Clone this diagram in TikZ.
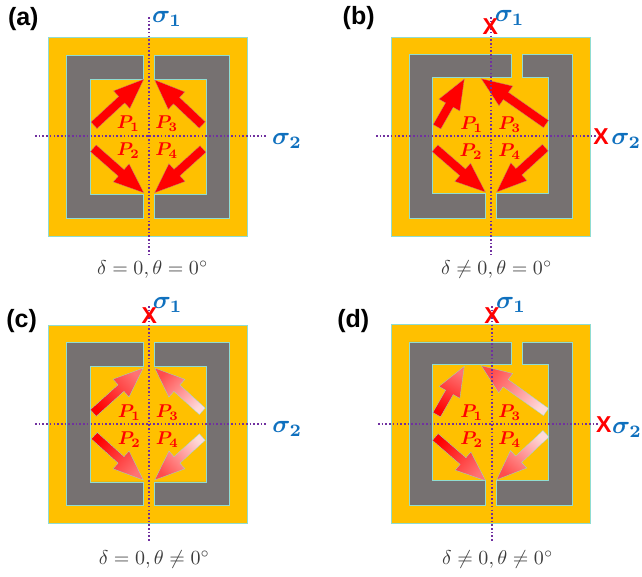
\documentclass[tikz,border=0pt]{standalone}
\usepackage{amsmath}
\usepackage{amssymb}
\usepackage{fontspec}
\newfontfamily\tagfont{Liberation Sans}
\usetikzlibrary{
    calc
}

\definecolor{ringgold}{HTML}{FFC000}
\definecolor{ringgray}{HTML}{767171}
\definecolor{ringedge}{HTML}{8FDCD2}
\definecolor{axispurple}{HTML}{7030A0}
\definecolor{sigmablue}{HTML}{0F70BE}
\definecolor{captiongray}{HTML}{3C3C3C}

\tikzset{
    ringpart/.style={draw=ringedge, line width=0.7pt},
    axisline/.style={axispurple, line width=1.6pt, dash pattern=on 1.6pt off 2.1pt},
    solidarrow/.style={fill=red, draw=ringedge!60!red, line width=0.3pt},
    strongarrow/.style={bottom color=red, top color=red!55!white, draw=ringedge, line width=0.3pt},
    weakarrow/.style={bottom color=red!15!white, top color=red!70!white, draw=ringedge, line width=0.3pt},
    ptag/.style={text=red, font=\boldmath, scale=1.85},
    sigmatag/.style={text=sigmablue, font=\boldmath, scale=2.5},
    crosstag/.style={text=red, font=\fontsize{23}{23}\selectfont\tagfont\bfseries},
    paneltag/.style={font=\fontsize{25}{25}\selectfont\tagfont\bfseries},
    captiontag/.style={text=captiongray, scale=2}
}

% tail, tip
\newcommand{\fatarrow}[3][solidarrow]{
    \coordinate (T) at #2;
    \coordinate (H) at #3;
    \coordinate (N) at ($(H)!30pt!(T)$);
    \path[#1] ($(T)!4.4pt!90:(H)$) -- ($(N)!4.4pt!-90:(T)$) -- ($(N)!12pt!-90:(T)$)
        -- (H) -- ($(N)!12pt!90:(T)$) -- ($(N)!4.4pt!90:(T)$) -- ($(T)!4.4pt!-90:(H)$) -- cycle;
}

% gaps facing each other
\newcommand{\ringsym}{
    \fill[ringgold, ringpart] (48.7,37.3) rectangle (247.7,236);
    \filldraw[fill=ringgray, ringpart] (143.7,55) -- (66.3,55) -- (66.3,218) -- (143.7,218)
        -- (143.7,194.3) -- (90,194.3) -- (90,79) -- (143.7,79) -- cycle;
    \filldraw[fill=ringgray, ringpart] (154.3,55) -- (229.7,55) -- (229.7,218) -- (154.3,218)
        -- (154.3,194.3) -- (206,194.3) -- (206,79) -- (154.3,79) -- cycle;
}

% gaps pushed apart
\newcommand{\ringshift}{
    \fill[ringgold, ringpart] (391,37.3) rectangle (590,236);
    \filldraw[fill=ringgray, ringpart] (511.3,54.5) -- (409.3,54.5) -- (409.3,218) -- (485,218)
        -- (485,193) -- (432,193) -- (432,77.3) -- (511.3,77.3) -- cycle;
    \filldraw[fill=ringgray, ringpart] (522.7,54.5) -- (572.7,54.5) -- (572.7,218) -- (496.3,218)
        -- (496.3,193) -- (548.7,193) -- (548.7,77.3) -- (522.7,77.3) -- cycle;
}

\begin{document}
\begin{tikzpicture}[x=1pt,y=-1pt]
\useasboundingbox (0,0) rectangle (642,576);

% (a)
\ringsym
\fatarrow{(94,125.3)}{(143.7,79.3)}
\fatarrow{(202.3,125)}{(154.7,80)}
\fatarrow{(93.3,148.3)}{(143.7,192.7)}
\fatarrow{(203,149)}{(154.7,192.7)}
\draw[axisline] (149,17) -- (149,255);
\draw[axisline] (35,136) -- (267,136);
\node[paneltag] (taga) at (23.3,19) {(a)};
\node[sigmatag] (sa1) at (167,19) {$\sigma_1$};
\node[sigmatag] (sa2) at (287,140.7) {$\sigma_2$};
\node[ptag] (pa1) at (128.3,124) {$P_1$};
\node[ptag] (pa3) at (166.7,124) {$P_3$};
\node[ptag] (pa2) at (128.3,150.7) {$P_2$};
\node[ptag] (pa4) at (166.7,150.7) {$P_4$};
\node[captiontag] (capa) at (152.7,269.3) {$\delta=0,\theta=0^\circ$};

% (b)
\ringshift
\fatarrow{(437,126.7)}{(464.3,79)}
\fatarrow{(546,124)}{(481.3,78.7)}
\fatarrow{(435,148.3)}{(485.3,192)}
\fatarrow{(545.3,147.7)}{(496.7,192)}
\draw[axisline] (490.7,17) -- (490.7,255);
\draw[axisline] (376,136) -- (597,136);
\node[paneltag] (tagb) at (358.7,18.3) {(b)};
\node[sigmatag] (sb1) at (509.7,18) {$\sigma_1$};
\node[sigmatag] (sb2) at (626.3,141) {$\sigma_2$};
\node[crosstag] (xb1) at (490.3,26.7) {X};
\node[crosstag] (xb2) at (601,136.7) {X};
\node[ptag] (pb1) at (471.7,125) {$P_1$};
\node[ptag] (pb3) at (509.7,125) {$P_3$};
\node[ptag] (pb2) at (471,151.7) {$P_2$};
\node[ptag] (pb4) at (509.7,151.7) {$P_4$};
\node[captiontag] (capb) at (496.7,269.3) {$\delta\neq0,\theta=0^\circ$};

% (c)
\begin{scope}[shift={(0,287.6)}]
\ringsym
\end{scope}
\fatarrow[strongarrow,shading angle=-48]{(93.3,413)}{(143.3,368)}
\fatarrow[weakarrow,shading angle=47]{(202.3,411.3)}{(154.7,368)}
\fatarrow[strongarrow,shading angle=-132]{(94.3,435.7)}{(143.3,480)}
\fatarrow[weakarrow,shading angle=132]{(202.3,437)}{(154.7,480)}
\draw[axisline] (149,306) -- (149,542);
\draw[axisline] (35,423.7) -- (267,423.7);
\node[paneltag] (tagc) at (21.7,321.3) {(c)};
\node[sigmatag] (sc1) at (167.7,304.7) {$\sigma_1$};
\node[sigmatag] (sc2) at (287.3,428.7) {$\sigma_2$};
\node[crosstag] (xc1) at (149.3,315.3) {X};
\node[ptag] (pc1) at (129.3,413) {$P_1$};
\node[ptag] (pc3) at (167.3,413) {$P_3$};
\node[ptag] (pc2) at (129.3,439.7) {$P_2$};
\node[ptag] (pc4) at (167.3,439.7) {$P_4$};
\node[captiontag] (capc) at (154.3,559.7) {$\delta=0,\theta\neq0^\circ$};

% (d)
\begin{scope}[shift={(0,287.4)}]
\ringshift
\end{scope}
\fatarrow[strongarrow,shading angle=-30]{(436.7,414.7)}{(464.3,366.3)}
\fatarrow[weakarrow,shading angle=55]{(546,412)}{(481.3,365.7)}
\fatarrow[strongarrow,shading angle=-131]{(435.3,437)}{(485.7,480.7)}
\fatarrow[weakarrow,shading angle=140]{(546,433.7)}{(496.7,479.7)}
\draw[axisline] (492,306) -- (492,542);
\draw[axisline] (378,424) -- (600,424);
\node[paneltag] (tagd) at (353.3,321.3) {(d)};
\node[sigmatag] (sd1) at (511,305.3) {$\sigma_1$};
\node[sigmatag] (sd2) at (627,429.7) {$\sigma_2$};
\node[crosstag] (xd1) at (492,315.3) {X};
\node[crosstag] (xd2) at (603.7,424.7) {X};
\node[ptag] (pd1) at (471.7,413) {$P_1$};
\node[ptag] (pd3) at (509.7,413) {$P_3$};
\node[ptag] (pd2) at (471.7,439.7) {$P_2$};
\node[ptag] (pd4) at (509.7,439.7) {$P_4$};
\node[captiontag] (capd) at (497.7,559.7) {$\delta\neq0,\theta\neq0^\circ$};
\end{tikzpicture}
\end{document}
